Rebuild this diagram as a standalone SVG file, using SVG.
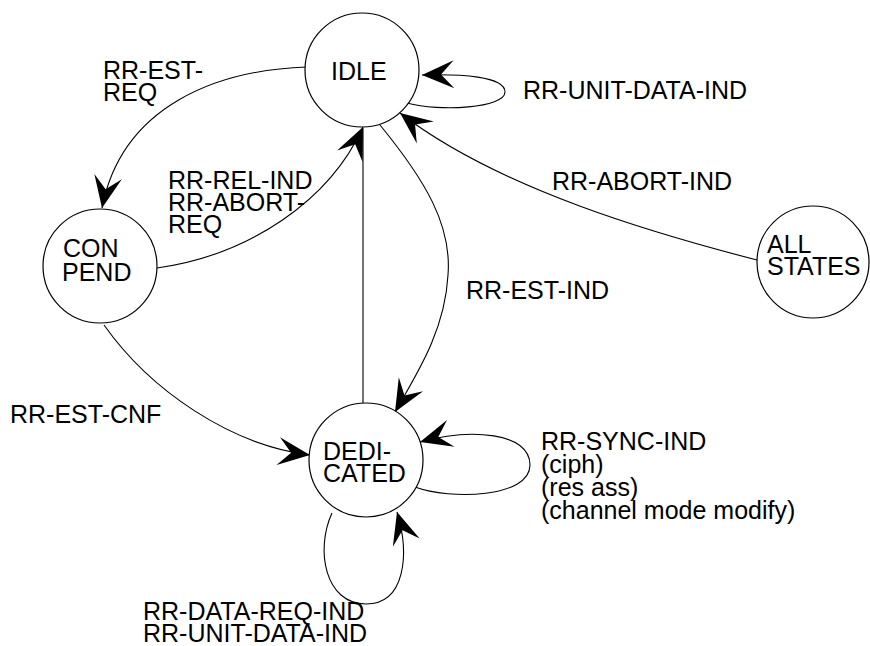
<svg xmlns="http://www.w3.org/2000/svg" width="870" height="646" viewBox="0 0 870 646">
<style>
.node{fill:#fff;stroke:#000;stroke-width:1.2}
.t{font-family:"Liberation Sans",Arial,sans-serif;font-size:25px;fill:#000}
.e{fill:none;stroke:#000;stroke-width:1.1}
</style>
<defs>
<marker id="ah" markerUnits="userSpaceOnUse" viewBox="-34 -16 36 32" refX="0" refY="0" markerWidth="36" markerHeight="32" orient="auto" overflow="visible">
<path d="M0,0 L-32,-14 L-19,0 L-32,14 Z" fill="#000"/>
</marker>
</defs>
<rect width="870" height="646" fill="#fff"/>
<g id="connectors">
<path class="e" d="M307,67 C218,70 122,105 102,208" marker-end="url(#ah)"/>
<path class="e" d="M157,268 C250,255 330,200 363,127" marker-end="url(#ah)"/>
<path class="e" d="M363,403 L363,128"/>
<path class="e" d="M380,125 C425,180 452,225 448,275 C445,330 418,372 395,412" marker-end="url(#ah)"/>
<path class="e" d="M757,260 C660,235 500,190 400,113" marker-end="url(#ah)"/>
<path class="e" d="M407,103 C440,112 505,108 505,92 C505,76 460,74 422,75" marker-end="url(#ah)"/>
<path class="e" d="M104,325 C150,390 230,445 310,455" marker-end="url(#ah)"/>
<path class="e" d="M415,487 C450,500 530,498 530,465 C530,432 470,428 420,442" marker-end="url(#ah)"/>
<path class="e" d="M332,513 C315,550 325,604 366,604 C405,604 410,555 397,512" marker-end="url(#ah)"/>
</g>
<g id="labels">
<text class="t" x="103" y="79">RR-EST-</text>
<text class="t" x="103" y="101">REQ</text>
<text class="t" x="168" y="189">RR-REL-IND</text>
<text class="t" x="168" y="211">RR-ABORT-</text>
<text class="t" x="168" y="233">REQ</text>
<text class="t" x="523" y="99">RR-UNIT-DATA-IND</text>
<text class="t" x="552" y="190">RR-ABORT-IND</text>
<text class="t" x="466" y="299">RR-EST-IND</text>
<text class="t" x="10" y="423">RR-EST-CNF</text>
<text class="t" x="541" y="450">RR-SYNC-IND</text>
<text class="t" x="541" y="473">(ciph)</text>
<text class="t" x="541" y="496">(res ass)</text>
<text class="t" x="541" y="519">(channel mode modify)</text>
<text class="t" x="143" y="620">RR-DATA-REQ-IND</text>
<text class="t" x="143" y="642">RR-UNIT-DATA-IND</text>
</g>
<g id="IDLE">
<circle class="node" cx="362" cy="70" r="57"/>
<text class="t" x="331" y="80">IDLE</text>
</g>
<g id="CON_PEND">
<circle class="node" cx="100" cy="266" r="57"/>
<text class="t" x="63" y="257">CON</text>
<text class="t" x="62" y="281">PEND</text>
</g>
<g id="DEDICATED">
<circle class="node" cx="366" cy="460" r="57"/>
<text class="t" x="323" y="460">DEDI-</text>
<text class="t" x="323" y="482">CATED</text>
</g>
<g id="ALL_STATES">
<circle class="node" cx="813" cy="262" r="56"/>
<text class="t" x="767" y="253">ALL</text>
<text class="t" x="767" y="275">STATES</text>
</g>
</svg>
